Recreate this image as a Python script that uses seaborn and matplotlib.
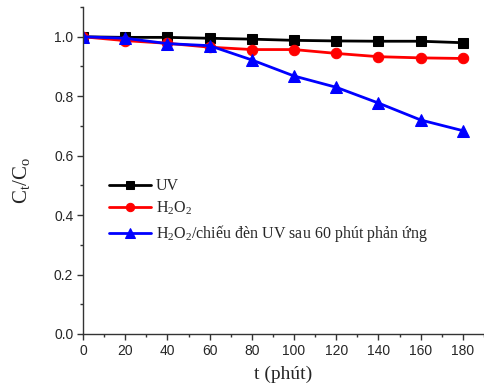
import matplotlib
matplotlib.use("Agg")
import matplotlib.pyplot as plt
import seaborn as sns
import pandas as pd
from matplotlib.ticker import MultipleLocator

t = [0, 20, 40, 60, 80, 100, 120, 140, 160, 180]
uv = [1.0, 0.998, 0.998, 0.995, 0.992, 0.988, 0.986, 0.985, 0.985, 0.980]
h2o2 = [1.0, 0.987, 0.978, 0.965, 0.957, 0.957, 0.944, 0.933, 0.929, 0.927]
h2o2_uv = [1.0, 0.995, 0.977, 0.970, 0.922, 0.868, 0.830, 0.777, 0.720, 0.684]
labels = ["UV", "H$_2$O$_2$", "H$_2$O$_2$/chiếu đèn UV sau 60 phút phản ứng"]

sns.set_style("ticks")
plt.rcParams['font.family'] = ['Liberation Sans', 'DejaVu Sans']
plt.rcParams['mathtext.fontset'] = 'custom'
plt.rcParams['mathtext.rm'] = 'Liberation Serif'
plt.rcParams['mathtext.it'] = 'Liberation Serif:italic'

df = pd.DataFrame({"t": t * 3,
                   "v": uv + h2o2 + h2o2_uv,
                   "s": [labels[0]] * 10 + [labels[1]] * 10 + [labels[2]] * 10})

fig = plt.figure(figsize=(4.84, 3.92), dpi=100)
ax = fig.add_axes([0.1715, 0.148, 0.8285, 0.834])
colors = ["black", "red", "blue"]
markers = ["s", "o", "^"]
sizes = [7, 7.5, 8.5]
for lab, c, m, ms in zip(labels, colors, markers, sizes):
    sub = df[df.s == lab]
    sns.lineplot(data=sub, x="t", y="v", ax=ax, color=c, marker=m, markersize=ms,
                 markeredgecolor=c, linewidth=2, label=lab)

ax.set_xlim(0, 190)
ax.set_ylim(0, 1.1)
ax.xaxis.set_major_locator(MultipleLocator(20))
ax.xaxis.set_minor_locator(MultipleLocator(10))
ax.yaxis.set_major_locator(MultipleLocator(0.2))
ax.yaxis.set_minor_locator(MultipleLocator(0.1))
ax.set_yticks([0, 0.2, 0.4, 0.6, 0.8, 1.0])
ax.set_yticklabels(["0.0", "0.2", "0.4", "0.6", "0.8", "1.0"])
ax.tick_params(axis="both", which="major", direction="out", length=4, width=1, labelsize=10, pad=3, color="#333333")
ax.tick_params(axis="both", which="minor", direction="out", length=2.5, width=1, color="#333333")
for sp in ["top", "right"]:
    ax.spines[sp].set_visible(False)
for sp in ["left", "bottom"]:
    ax.spines[sp].set_color("#333333")
    ax.spines[sp].set_linewidth(1)

ax.set_xlabel("t (phút)", fontsize=14, family=["Liberation Serif", "DejaVu Serif"], labelpad=6)
ax.set_ylabel("C$_\\mathrm{t}$/C$_\\mathrm{o}$", fontsize=15, family=["Liberation Serif", "DejaVu Serif"])
ax.yaxis.set_label_coords(-0.128, 0.47)

leg = ax.legend(loc="upper left", bbox_to_anchor=(0.05, 0.496), frameon=False,
                prop={"family": ["Liberation Serif", "DejaVu Serif"], "size": 11.5},
                handlelength=2.6, handletextpad=0.3, labelspacing=0.36, borderaxespad=0,
                markerscale=0.8)

fig.savefig("out.png", dpi=100)
